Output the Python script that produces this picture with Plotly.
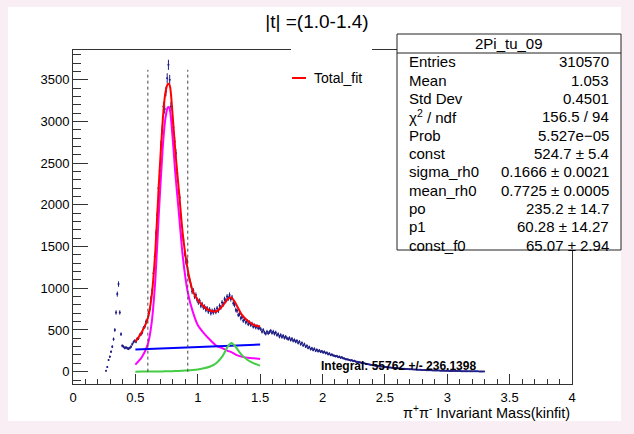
import numpy as np
import plotly.graph_objects as go

# histogram: 0.01 GeV bins, first bin centre 0.265
bin_width = 0.01
first_centre = 0.265
counts = [
    # 0.265 - 0.495
    10, 55, 140, 180, 240, 300, 390, 500, 710, 930, 1050, 710, 450, 310, 300, 285,
    290, 280, 275, 285, 300, 330, 355, 370,
    # 0.505 - 0.995
    360, 395, 400, 440, 450, 470, 525, 540, 600, 615,
    700, 750, 880, 975, 1180, 1380, 1660, 1880, 2200, 2410,
    2720, 2900, 3180, 3150, 3360, 3520, 3680, 3500, 3180, 3020,
    2930, 2760, 2620, 2380, 2180, 2090, 1860, 1640, 1580, 1420,
    1320, 1330, 1150, 1100, 1040, 960, 970, 900, 920, 860,
    # 1.005 - 1.495
    830, 850, 790, 810, 770, 780, 740, 760, 720, 745,
    700, 730, 710, 740, 715, 760, 730, 790, 770, 830,
    810, 870, 850, 900, 880, 920, 870, 890, 820, 800,
    740, 730, 680, 690, 640, 655, 610, 630, 590, 605,
    570, 590, 560, 575, 540, 555, 530, 545, 520, 530,
    # 1.505 - 2.495
    510, 480, 500, 470, 455, 480, 460, 475, 490, 465,
    480, 455, 470, 440, 450, 420, 440, 415, 430, 405,
    420, 400, 390, 405, 380, 395, 370, 380, 360, 370,
    345, 360, 330, 345, 315, 330, 300, 310, 285, 295,
    270, 280, 260, 275, 250, 262, 245, 255, 238, 245,
    230, 238, 222, 228, 210, 218, 200, 205, 195, 190,
    185, 188, 175, 180, 168, 172, 160, 158, 150, 148,
    145, 140, 135, 138, 128, 130, 122, 118, 115, 112,
    110, 105, 102, 100, 96, 92, 90, 86, 84, 80,
    78, 75, 72, 70, 68, 66, 63, 62, 60, 58,
    # 2.505 - 3.295
    56, 54, 52, 50, 49, 47, 46, 44, 43, 42,
    40, 39, 38, 36, 35, 34, 33, 32, 31, 30,
    29, 28, 27, 26, 25, 24, 24, 23, 22, 21,
    20, 20, 19, 18, 18, 17, 16, 16, 15, 15,
    14, 14, 13, 13, 12, 12, 11, 11, 10, 10,
    10, 9, 9, 9, 8, 8, 8, 7, 7, 7,
    7, 6, 6, 6, 6, 5, 5, 5, 5, 5,
    4, 4, 4, 4, 4, 3, 3, 3, 3, 3,
]

# fit curves
fit_x = [0.50, 0.55, 0.60, 0.63, 0.66, 0.69, 0.72, 0.74, 0.76, 0.77, 0.78, 0.80, 0.82, 0.85,
         0.88, 0.92, 0.96, 1.00, 1.05, 1.10, 1.15, 1.20, 1.24, 1.27, 1.30, 1.35, 1.40, 1.45, 1.50]
total_fit = [360, 470, 640, 900, 1450, 2300, 3030, 3340, 3450, 3450, 3400, 3050, 2650, 2150,
             1650, 1220, 970, 860, 780, 730, 725, 790, 870, 890, 830, 690, 610, 560, 540]
rho_fit = [85, 170, 330, 580, 1100, 1950, 2700, 3030, 3170, 3170, 3110, 2780, 2380, 1880,
           1380, 950, 720, 560, 460, 380, 310, 280, 250, 235, 207, 180, 168, 160, 152]
f0_fit = [0, 1, 1, 2, 2, 3, 3, 4, 4, 5, 5, 6, 7, 9,
          11, 15, 20, 27, 40, 62, 105, 190, 300, 345, 305, 205, 140, 100, 72]
bkg_x = [0.5, 1.5]
bkg_fit = [265.3, 325.6]

window_edges = [0.6, 0.92]
window_top = 3620

stat_labels = ["Entries", "Mean", "Std Dev", "χ<sup>2</sup> / ndf", "Prob", "const",
               "sigma_rh0", "mean_rh0", "po", "p1", "const_f0"]
stat_values = ["310570", "1.053", "0.4501", "156.5 / 94", "5.527e\u221205", "524.7 ± 5.4",
               "0.1666 ± 0.0021", "0.7725 ± 0.0005", "235.2 ± 14.7", "60.28 ± 14.27",
               "65.07 ± 2.94"]

W, H = 634, 434
L, R, T, B = 73, 62, 50, 50
FONT = "Liberation Sans, Arial, sans-serif"
PINK = "#f9eef3"


def px_x(px):
    return (px - L) / (W - L - R)


def px_y(py):
    return (H - B - py) / (H - T - B)


x_centres = first_centre + bin_width * np.arange(len(counts))
counts = np.array(counts, dtype=float)

fig = go.Figure()
fig.add_trace(go.Scatter(
    x=x_centres, y=counts, mode="markers",
    marker=dict(size=2, color="#1f1f86"),
    error_y=dict(type="data", array=np.sqrt(counts), color="#1f1f86", thickness=1, width=0),
    error_x=dict(type="constant", value=bin_width / 2, color="#1f1f86", thickness=1, width=0),
    showlegend=False, hoverinfo="skip"))

fig.add_trace(go.Scatter(x=fit_x, y=rho_fit, mode="lines", line=dict(color="#ff00ff", width=2, shape="spline", smoothing=0.6), showlegend=False))
fig.add_trace(go.Scatter(x=bkg_x, y=bkg_fit, mode="lines", line=dict(color="#0000ff", width=2), showlegend=False))
fig.add_trace(go.Scatter(x=fit_x, y=f0_fit, mode="lines", line=dict(color="#44cc44", width=2, shape="spline", smoothing=0.6), showlegend=False))
fig.add_trace(go.Scatter(x=fit_x, y=total_fit, mode="lines", line=dict(color="#ff0000", width=2, shape="spline", smoothing=0.6), showlegend=False))

shapes = []
# white pad over the pink window
shapes.append(dict(type="rect", xref="paper", yref="paper", x0=px_x(8), x1=px_x(621),
                   y0=px_y(421), y1=px_y(7), fillcolor="white", line_width=0, layer="below"))
for xe in window_edges:
    shapes.append(dict(type="line", xref="x", yref="y", x0=xe, x1=xe, y0=0, y1=window_top,
                       line=dict(color="#444444", width=1, dash="dot")))
# legend box (white, hides frame)
shapes.append(dict(type="rect", xref="paper", yref="paper", x0=px_x(291), x1=px_x(372),
                   y0=px_y(110), y1=px_y(40), fillcolor="white", line_width=0, layer="above"))
shapes.append(dict(type="line", xref="paper", yref="paper", x0=px_x(292), x1=px_x(306),
                   y0=px_y(78), y1=px_y(78), line=dict(color="#ff0000", width=2), layer="above"))
# stats box
shapes.append(dict(type="rect", xref="paper", yref="paper", x0=px_x(397), x1=px_x(621),
                   y0=px_y(250), y1=px_y(34), fillcolor="white",
                   line=dict(color="#222222", width=1), layer="above"))
shapes.append(dict(type="line", xref="paper", yref="paper", x0=px_x(397), x1=px_x(621),
                   y0=px_y(53), y1=px_y(53), line=dict(color="#222222", width=1), layer="above"))

ann = []
ann.append(dict(text="Total_fit", xref="paper", yref="paper", x=px_x(312), y=px_y(78),
                xanchor="left", yanchor="middle", showarrow=False, font=dict(size=14)))
ann.append(dict(text="2Pi_tu_09", xref="paper", yref="paper", x=px_x(509), y=px_y(44),
                xanchor="center", yanchor="middle", showarrow=False, font=dict(size=15)))
for i, (lab, val) in enumerate(zip(stat_labels, stat_values)):
    yy = px_y(62 + i * 18.3)
    ann.append(dict(text=lab, xref="paper", yref="paper", x=px_x(407), y=yy,
                    xanchor="left", yanchor="middle", showarrow=False, font=dict(size=15)))
    ann.append(dict(text=val, xref="paper", yref="paper", x=px_x(611), y=yy,
                    xanchor="right", yanchor="middle", showarrow=False, font=dict(size=15)))
ann.append(dict(text="<b>Integral: 55762 +/- 236.1398</b>", xref="x", yref="y", x=1.97, y=70,
                xanchor="left", yanchor="middle", showarrow=False, font=dict(size=12)))
ann.append(dict(text="π<sup>+</sup>π<sup>-</sup> Invariant Mass(kinfit)", xref="paper", yref="paper",
                x=1, y=px_y(412), xanchor="right", yanchor="middle", showarrow=False,
                font=dict(size=14.5)))

fig.update_layout(
    width=W, height=H, margin=dict(l=L, r=R, t=T, b=B),
    paper_bgcolor=PINK, plot_bgcolor="white",
    font=dict(family=FONT, color="black"),
    title=dict(text="|t| =(1.0-1.4)", x=317 / W, y=1 - 21 / H, xanchor="center", yanchor="middle",
               xref="container", yref="container", font=dict(size=19)),
    shapes=shapes, annotations=ann, showlegend=False,
)
fig.update_xaxes(range=[0, 4], showgrid=False, zeroline=False, showline=True, mirror=True,
                 linecolor="#333333", linewidth=1, ticks="inside", ticklen=10, tickcolor="#333333",
                 dtick=0.5, tick0=0, tickfont=dict(size=13), ticklabelstandoff=1,
                 minor=dict(ticks="inside", ticklen=5, dtick=0.1, tick0=0, tickcolor="#333333", showgrid=False))
fig.update_yaxes(range=[-148, 3858], showgrid=False, zeroline=False, showline=True, mirror=True,
                 linecolor="#333333", linewidth=1, ticks="inside", ticklen=15, tickcolor="#333333",
                 dtick=500, tick0=0, tickfont=dict(size=13),
                 minor=dict(ticks="inside", ticklen=8, dtick=100, tick0=0, tickcolor="#333333", showgrid=False))

# page has no body margin so the 634x434 figure fills the window
fig.write_html("out.html", config={"displayModeBar": False},
               post_script=f"document.body.style.margin='0';document.body.style.background='{PINK}';")
